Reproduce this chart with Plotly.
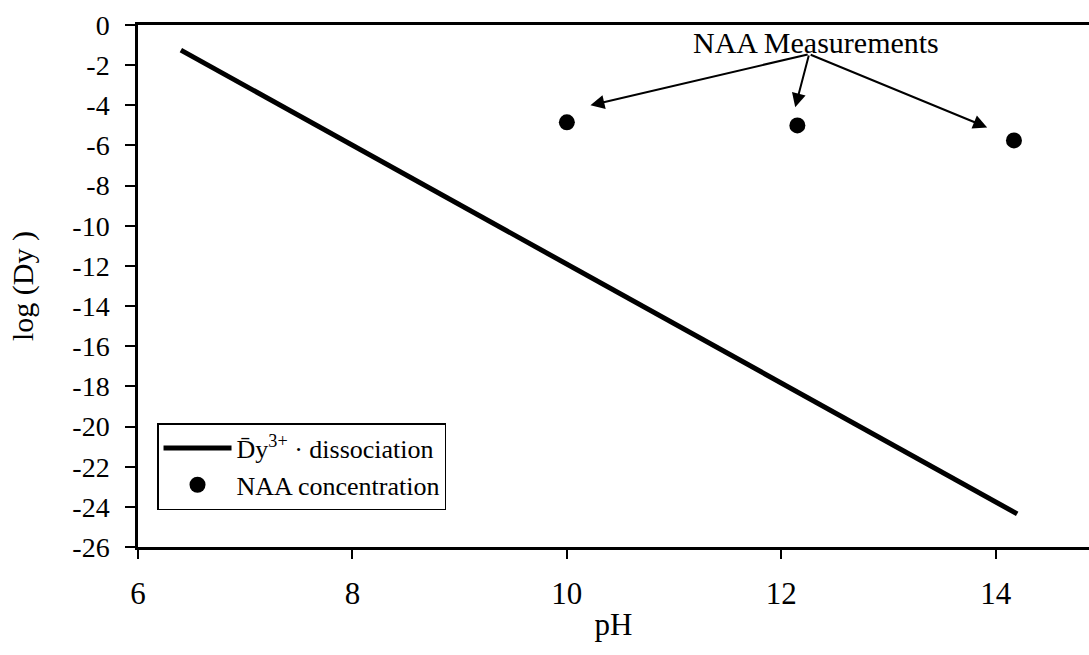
import plotly.graph_objects as go

# Data
line_ph = [6.4, 14.2]
line_logdy = [-1.25, -24.35]
naa_ph = [10.0, 12.15, 14.17]
naa_logdy = [-4.85, -5.0, -5.75]
x_ticks = [6, 8, 10, 12, 14]
x_labels = ["6", "8", "10", "12", "14"]
y_ticks = [0, -2, -4, -6, -8, -10, -12, -14, -16, -18, -20, -22, -24, -26]
y_labels = ["0", "-2", "-4", "-6", "-8", "-10", "-12", "-14", "-16", "-18",
            "-20", "-22", "-24", "-26"]
arrow_tail = (12.26, -1.45)
arrow_heads_x = [10.22, 12.13, 13.92]
arrow_heads_y = [-4.0, -4.1, -5.1]

FONT = "Liberation Serif"

fig = go.Figure()
fig.add_trace(go.Scatter(
    x=line_ph, y=line_logdy, mode="lines",
    line=dict(color="black", width=5),
    name="D\u0304y<sup>3+</sup> \u00b7 dissociation",
    legendgroup="a",
))
fig.add_trace(go.Scatter(
    x=naa_ph, y=naa_logdy, mode="markers",
    marker=dict(color="black", size=16),
    name="NAA concentration",
    legendgroup="b",
))

for hx, hy in zip(arrow_heads_x, arrow_heads_y):
    fig.add_annotation(
        x=hx, y=hy, ax=arrow_tail[0], ay=arrow_tail[1],
        xref="x", yref="y", axref="x", ayref="y",
        text="", showarrow=True, arrowhead=2, arrowsize=1.4,
        arrowwidth=2, arrowcolor="black", standoff=0, startstandoff=0,
    )

fig.add_annotation(
    x=12.32, y=-0.85, xref="x", yref="y", text="NAA Measurements",
    showarrow=False, font=dict(family=FONT, size=30, color="black"),
)

fig.update_layout(
    template="none",
    width=1089, height=655,
    margin=dict(l=138, r=0, t=25, b=108),
    paper_bgcolor="white", plot_bgcolor="white",
    font=dict(family=FONT, color="black"),
    showlegend=True,
    legend=dict(
        x=0.02, y=0.2375, xanchor="left", yanchor="top",
        bordercolor="black", borderwidth=1.5, bgcolor="white",
        font=dict(family=FONT, size=26, color="black"),
        tracegroupgap=0, itemwidth=68,
    ),
)
fig.update_xaxes(
    range=[6, 14.87], tickvals=x_ticks, ticktext=x_labels, ticks="outside", ticklen=9,
    tickwidth=1.5, tickcolor="black", showline=True, linecolor="black",
    linewidth=2.5, mirror=True, showgrid=False, zeroline=False,
    tickfont=dict(family=FONT, size=31, color="black"),
    ticklabelstandoff=8,
    title=dict(text="pH", font=dict(family=FONT, size=31, color="black"), standoff=4),
)
fig.update_yaxes(
    range=[-26, 0], tickvals=y_ticks, ticktext=y_labels, ticks="outside", ticklen=10,
    tickwidth=1.5, tickcolor="black", showline=True, linecolor="black",
    linewidth=2.5, showgrid=False, zeroline=False,
    tickfont=dict(family=FONT, size=28, color="black"),
    ticklabelstandoff=10,
    title=dict(text="log (Dy )", font=dict(family=FONT, size=30, color="black"), standoff=30),
)

fig.write_html("out.html")
